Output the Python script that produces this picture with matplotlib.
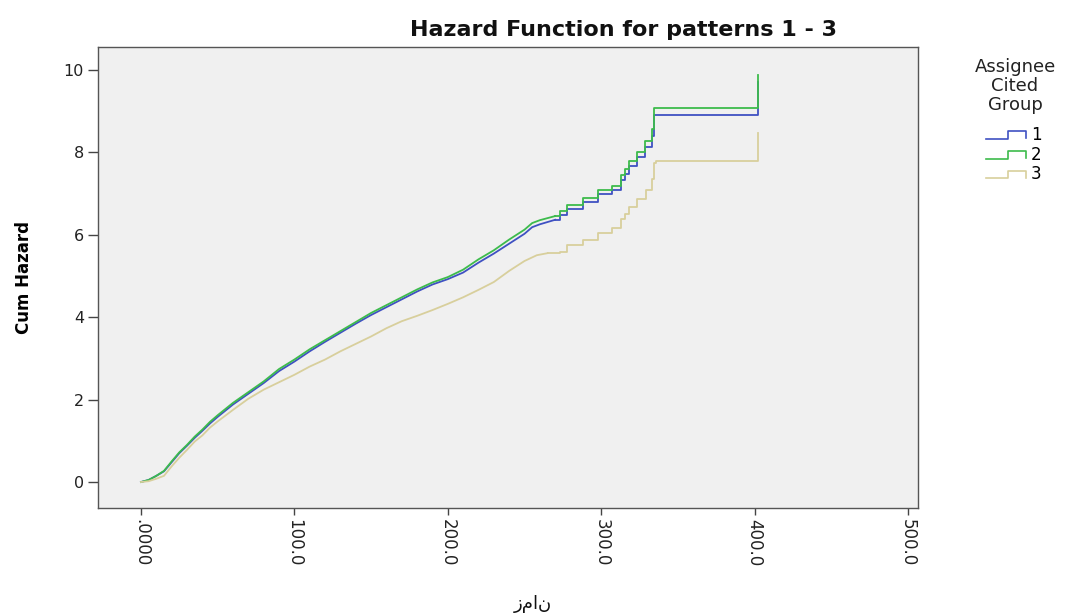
import matplotlib
matplotlib.use("Agg")
import matplotlib.pyplot as plt
from matplotlib.legend_handler import HandlerBase
from matplotlib.lines import Line2D

# ---------------- data ----------------
title = "Hazard Function for patterns 1 - 3"
y_label = "Cum Hazard"
x_label = "زمان"
legend_title = "Assignee\nCited\nGroup"
group_labels = ["1", "2", "3"]
x_ticks = [0, 100, 200, 300, 400, 500]
x_tick_labels = [".0000", "100.0", "200.0", "300.0", "400.0", "500.0"]
y_ticks = [0, 2, 4, 6, 8, 10]

# smooth (dense-event) part of each cumulative hazard curve
g1_t = [0, 5, 10, 15, 20, 25, 30, 35, 40, 45, 50, 60, 70, 80, 90, 100, 110, 120,
        130, 140, 150, 160, 170, 180, 190, 200, 210, 220, 230, 240, 250, 255, 260, 270]
g1_h = [0.0, 0.05, 0.15, 0.26, 0.48, 0.70, 0.88, 1.07, 1.24, 1.42, 1.58, 1.88, 2.14,
        2.40, 2.69, 2.92, 3.17, 3.40, 3.62, 3.84, 4.05, 4.24, 4.43, 4.62, 4.79, 4.92,
        5.08, 5.32, 5.54, 5.78, 6.02, 6.18, 6.25, 6.36]
g2_t = g1_t
g2_h = [0.0, 0.05, 0.15, 0.27, 0.50, 0.72, 0.90, 1.10, 1.27, 1.46, 1.62, 1.92, 2.18,
        2.44, 2.74, 2.97, 3.22, 3.44, 3.66, 3.88, 4.10, 4.29, 4.48, 4.67, 4.84, 4.97,
        5.15, 5.40, 5.62, 5.88, 6.12, 6.28, 6.35, 6.45]
g3_t = [0, 5, 10, 15, 20, 25, 30, 35, 40, 45, 50, 60, 70, 80, 90, 100, 110, 120,
        130, 140, 150, 160, 170, 180, 190, 200, 210, 220, 230, 240, 250, 258, 265]
g3_h = [0.0, 0.02, 0.08, 0.15, 0.38, 0.59, 0.78, 0.98, 1.13, 1.32, 1.47, 1.75, 2.02,
        2.24, 2.42, 2.60, 2.80, 2.97, 3.17, 3.35, 3.53, 3.73, 3.90, 4.03, 4.17, 4.32,
        4.48, 4.66, 4.85, 5.12, 5.36, 5.50, 5.55]

# stepped (sparse-event) tail of each curve
g1_step_t = [270, 273, 277.5, 288, 297.7, 306.8, 312.9, 315.5, 318.1, 323.1, 328.6,
             332.9, 334.6, 402, 402]
g1_step_h = [6.36, 6.48, 6.62, 6.78, 6.98, 7.08, 7.32, 7.48, 7.66, 7.88, 8.12,
             8.40, 8.90, 9.70, 9.70]
g2_step_t = [270, 273, 277.5, 288, 297.7, 306.8, 312.9, 315.5, 318.1, 323.1, 328.6,
             332.9, 334.6, 402, 402]
g2_step_h = [6.45, 6.58, 6.71, 6.89, 7.08, 7.18, 7.44, 7.60, 7.79, 8.00, 8.27,
             8.55, 9.08, 9.87, 9.87]
g3_step_t = [265, 273, 277.5, 288, 297.7, 306.8, 312.9, 315.5, 318.1, 323.1, 329,
             333, 334.6, 335.5, 402, 402]
g3_step_h = [5.55, 5.58, 5.76, 5.88, 6.05, 6.17, 6.39, 6.51, 6.67, 6.86, 7.08,
             7.36, 7.73, 7.78, 8.46, 8.46]

colors = ["#3f51c2", "#3dbb4c", "#d8cf9c"]

# ---------------- figure ----------------
fig = plt.figure(figsize=(10.73, 6.16), dpi=100)
fig.patch.set_facecolor("white")
ax = fig.add_axes([98 / 1073, 1 - 508 / 616, 820 / 1073, 461 / 616])
ax.set_facecolor("#f0f0f0")

series = [(g1_t, g1_h, g1_step_t, g1_step_h),
          (g2_t, g2_h, g2_step_t, g2_step_h),
          (g3_t, g3_h, g3_step_t, g3_step_h)]
for (t, h, st, sh), c in zip(series, colors):
    ax.plot(t, h, color=c, lw=1.3, solid_joinstyle="miter")
    ax.plot(st, sh, color=c, lw=1.3, drawstyle="steps-post")

ax.set_xlim(-28, 506.5)
ax.set_ylim(-0.63, 10.55)
ax.set_xticks(x_ticks)
ax.set_xticklabels(x_tick_labels, rotation=-90, fontsize=12, color="#222222")
ax.set_yticks(y_ticks)
ax.set_yticklabels([str(v) for v in y_ticks], fontsize=11.5, color="#222222")
ax.tick_params(axis="x", length=5, width=1.0, color="#444444", pad=3)
ax.tick_params(axis="y", length=7, width=1.0, color="#444444", pad=3)
for s in ax.spines.values():
    s.set_color("#555555")
    s.set_linewidth(1.0)

fig.text(624 / 1073, 1 - 30 / 616, title, ha="center", va="center",
         fontsize=16, fontweight="bold", color="#111111")
ax.set_ylabel(y_label, fontsize=12, fontweight="bold", labelpad=22)
fig.text(533 / 1073, 1 - 604 / 616, x_label, ha="center", va="center",
         fontsize=13, family=["DejaVu Sans"], color="#111111")


class StepHandler(HandlerBase):
    def create_artists(self, legend, orig_handle, xdescent, ydescent, width,
                       height, fontsize, trans):
        x0, x1 = -xdescent, -xdescent + width
        xm = x0 + width * 0.55
        ylo = -ydescent + height * 0.1
        yhi = -ydescent + height * 0.75
        line = Line2D([x0, xm, xm, x1, x1], [ylo, ylo, yhi, yhi, ylo + height * 0.05],
                      color=orig_handle.get_color(), lw=1.2)
        line.set_transform(trans)
        return [line]


# legend title (centred block) and entries
fig.text(1015 / 1073, 1 - 86 / 616, legend_title, ha="center", va="center",
         multialignment="center", fontsize=13, linespacing=1.05, color="#222222")
handles = [Line2D([], [], color=c) for c in colors]
fig.legend(handles, group_labels,
           loc="upper left", bbox_to_anchor=(986 / 1073, 1 - 126 / 616),
           frameon=False, fontsize=12, borderpad=0, borderaxespad=0,
           handlelength=2.4, handletextpad=0.3, labelspacing=0.1,
           handler_map={Line2D: StepHandler()})

fig.savefig("out.png", dpi=100)
